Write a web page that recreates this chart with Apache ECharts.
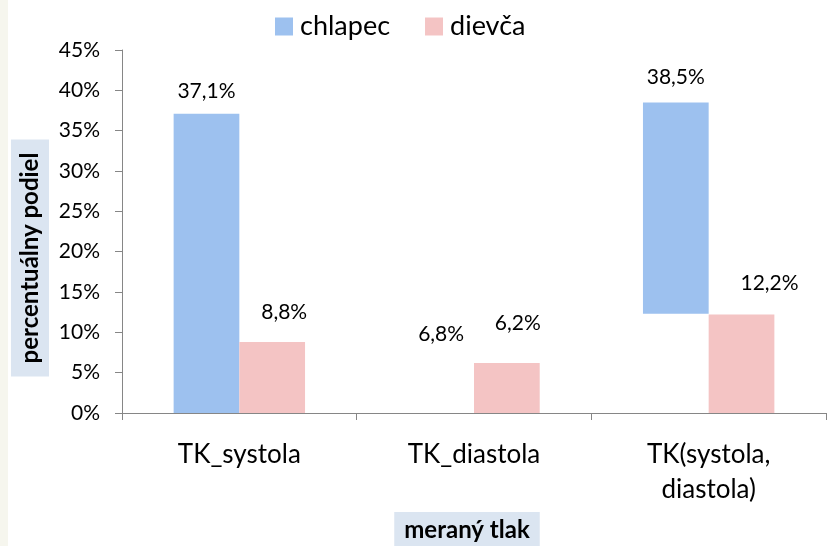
<!DOCTYPE html>
<html>
<head>
<meta charset="utf-8">
<script src="https://cdn.jsdelivr.net/npm/echarts@6/dist/echarts.min.js"></script>
<style>
  html, body { margin: 0; padding: 0; background: #fff; }
  #chart { width: 833px; height: 546px; }
</style>
</head>
<body>
<div id="chart"></div>
<script>
// data
var categories = ['TK_systola', 'TK_diastola', 'TK(systola,\ndiastola)'];
var chlapec = [37.1, 6.8, 38.5];
var dievca = [8.8, 6.2, 12.2];
// the blue bars in the picture start above zero in the last group
var chlapecBase = [0, 0, 12.3];
var chlapecShown = [true, false, true];

// label nudges (px), just styling
var chLabelShift = [[0, -12], [0, -13], [0, -15]];
var dvLabelShift = [[12, -19], [11, -29], [28, -21]];

var FONT = 'Lato';
var BLUE = '#9dc1ef';
var PINK = '#f4c4c4';
var NAME_BG = '#dbe5f1';

function pct(v) {
    return v.toFixed(1).replace('.', ',') + '%';
}

var chart = echarts.init(document.getElementById('chart'));

var option = {
    animation: false,
    textStyle: { fontFamily: FONT, color: '#000' },
    graphic: [
        {
            type: 'rect',
            left: 0, top: 0,
            shape: { width: 8, height: 546 },
            style: { fill: '#f6f6ee' },
            silent: true
        },
        // y axis title sits a bit lower than the plot middle
        {
            type: 'text',
            x: 30,
            y: 258,
            rotation: Math.PI / 2,
            silent: true,
            style: {
                text: 'percentuálny podiel',
                font: 'bold 24px Lato',
                fill: '#000',
                align: 'center',
                verticalAlign: 'middle',
                backgroundColor: NAME_BG,
                padding: [8, 13, 6, 13]
            }
        },
        // x axis title, a little left of the plot middle
        {
            type: 'text',
            x: 467,
            y: 512,
            silent: true,
            style: {
                text: 'meraný tlak',
                font: 'bold 24px Lato',
                fill: '#000',
                align: 'center',
                verticalAlign: 'top',
                backgroundColor: NAME_BG,
                padding: [6, 10, 5, 10]
            }
        }
    ],
    legend: {
        data: ['chlapec', 'dievča'],
        top: 8,
        left: 270,
        itemWidth: 18,
        itemHeight: 18,
        itemGap: 35,
        icon: 'rect',
        textStyle: { fontSize: 27, fontFamily: FONT, color: '#000', padding: [0, 0, 0, 2] }
    },
    grid: {
        left: 122,
        right: 7,
        top: 50,
        bottom: 133,
        outerBoundsMode: 'none'
    },
    xAxis: {
        type: 'category',
        data: categories,
        axisLine: { lineStyle: { color: '#868686', width: 1 } },
        axisTick: { show: true, length: 7, lineStyle: { color: '#868686' } },
        axisLabel: {
            fontSize: 26,
            color: '#000',
            margin: 24,
            lineHeight: 35
        },
        splitLine: { show: false }
    },
    yAxis: {
        type: 'value',
        min: 0,
        max: 45,
        interval: 5,
        axisLine: { show: true, lineStyle: { color: '#868686', width: 1 } },
        axisTick: { show: true, length: 7, lineStyle: { color: '#868686' } },
        axisLabel: {
            fontSize: 21,
            color: '#000',
            margin: 22,
            formatter: '{value}%'
        },
        splitLine: { show: false }
    },
    series: [
        {
            name: 'base',
            type: 'bar',
            stack: 'ch',
            silent: true,
            barGap: '0%',
            barCategoryGap: '44%',
            itemStyle: { color: 'rgba(0,0,0,0)' },
            data: chlapecBase
        },
        {
            name: 'chlapec',
            type: 'bar',
            stack: 'ch',
            barGap: '0%',
            barCategoryGap: '44%',
            itemStyle: { color: BLUE },
            data: chlapec.map(function (v, i) {
                return {
                    value: v - chlapecBase[i],
                    itemStyle: { color: chlapecShown[i] ? BLUE : 'rgba(0,0,0,0)' },
                    label: {
                        show: true,
                        position: 'top',
                        distance: 0,
                        offset: chLabelShift[i],
                        fontSize: 21,
                        color: '#000',
                        formatter: function () { return pct(chlapec[i]); }
                    }
                };
            })
        },
        {
            name: 'dievča',
            type: 'bar',
            barGap: '0%',
            barCategoryGap: '44%',
            itemStyle: { color: PINK },
            data: dievca.map(function (v, i) {
                return {
                    value: v,
                    label: {
                        show: true,
                        position: 'top',
                        distance: 0,
                        offset: dvLabelShift[i],
                        fontSize: 21,
                        color: '#000',
                        formatter: function () { return pct(v); }
                    }
                };
            })
        }
    ]
};

chart.setOption(option);
</script>
</body>
</html>
